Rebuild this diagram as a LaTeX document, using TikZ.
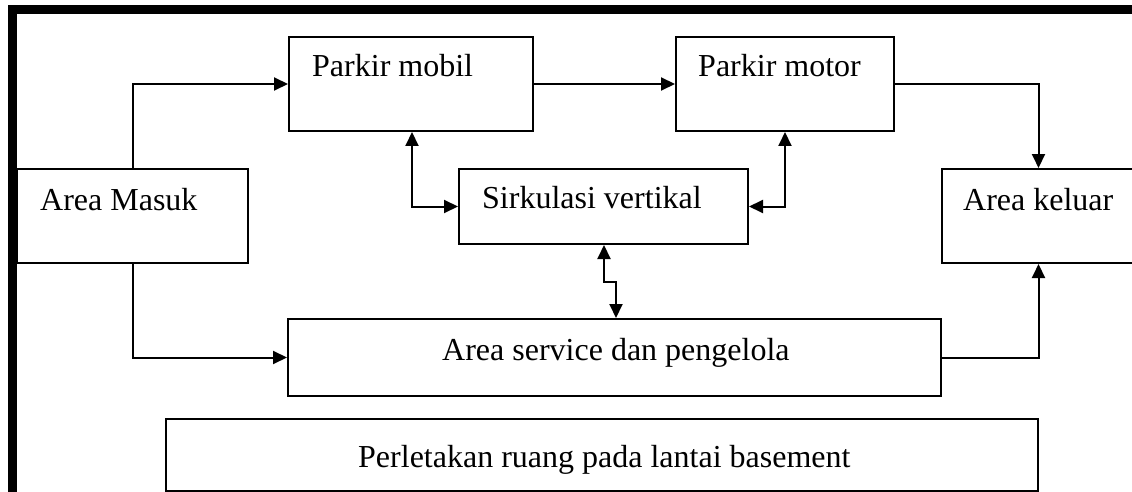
\documentclass[tikz,border=0pt]{standalone}
\usepackage{fontspec}
\setmainfont{Liberation Serif}
\usetikzlibrary{arrows.meta}
\begin{document}
\begin{tikzpicture}[x=1pt,y=-1pt,
  box/.style={draw=black,line width=2pt,inner sep=0pt,fill=none},
  lbl/.style={anchor=base west,inner sep=0pt,font=\fontsize{32}{38}\selectfont},
  conn/.style={draw=black,line width=2pt},
  arr/.style={conn,-{Triangle[length=14pt,width=13pt]}},
  darr/.style={conn,{Triangle[length=14pt,width=13pt]}-{Triangle[length=14pt,width=13pt]}}]
\useasboundingbox (0,0) rectangle (1132,492);
% frame
\fill[black] (8,5) rectangle (1140,14);
\fill[black] (8,5) rectangle (17,500);
% boxes
\node[box,minimum width=231pt,minimum height=94pt] (am) at (132.5,216) {};
\node[box,minimum width=244pt,minimum height=94pt] (pm) at (411,84) {};
\node[box,minimum width=218pt,minimum height=94pt] (pt) at (785,84) {};
\node[box,minimum width=289pt,minimum height=75pt] (sv) at (603.5,206.5) {};
\node[box,minimum width=193pt,minimum height=94pt] (ak) at (1038.5,216) {};
\node[box,minimum width=653pt,minimum height=77pt] (as) at (614.5,357.5) {};
\node[box,minimum width=872pt,minimum height=72pt] (pl) at (602,455) {};
% texts
\node[lbl] (amt) at (40,210) {Area Masuk};
\node[lbl] (pmt) at (312,77) {Parkir mobil};
\node[lbl] (ptt) at (698,77) {Parkir motor};
\node[lbl] (svt) at (482,208) {Sirkulasi vertikal};
\node[lbl] (akt) at (963,210) {Area keluar};
\node[lbl] (ast) at (442,360) {Area service dan pengelola};
\node[lbl] (plt) at (358,467) {Perletakan ruang pada lantai basement};
% connectors
\draw[arr] (am.north -| 133,0) |- (pm.west);
\draw[arr] (pm.east) -- (pt.west);
\draw[arr] (pt.east) -| (ak.north);
\draw[darr] (pm.south -| 412,0) |- (sv.west);
\draw[darr] (pt.south -| 785,0) |- (sv.east);
\coordinate (j1) at (604,282);
\coordinate (j2) at (616,282);
\draw[darr] (sv.south -| 604,0) -- (j1) -- (j2) -- (as.north -| 616,0);
\draw[arr] (am.south -| 133,0) |- (as.west);
\draw[arr] (as.east) -| (ak.south);
\end{tikzpicture}
\end{document}
